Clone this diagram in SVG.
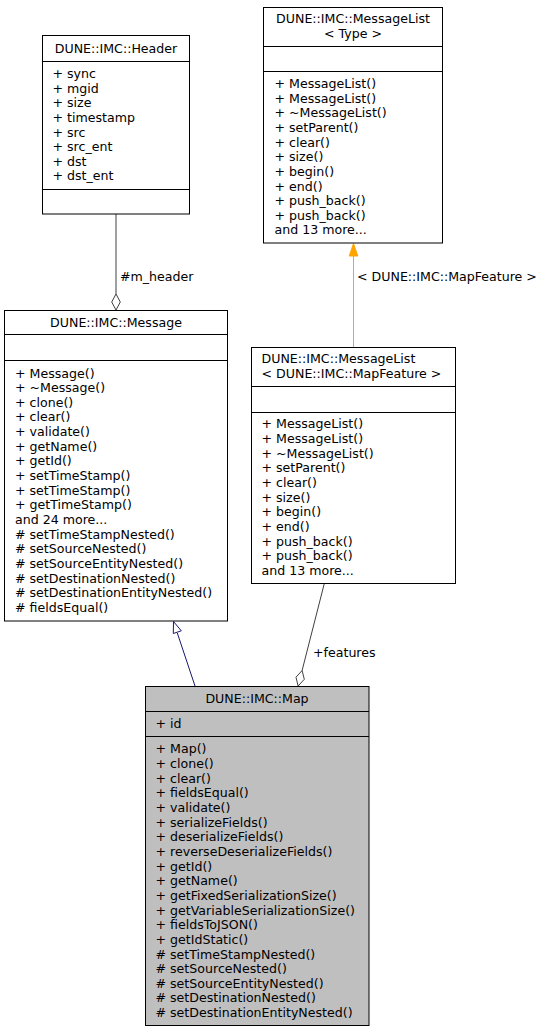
<svg xmlns="http://www.w3.org/2000/svg" width="545" height="1032" viewBox="0 0 545 1032">
<style>
text { font-family: "DejaVu Sans", "Liberation Sans", sans-serif; font-size: 12.6px; fill: #000; }
.box { fill: #fff; stroke: #000; stroke-width: 1; }
.cur { fill: #bfbfbf; stroke: #000; stroke-width: 1; }
.sep { stroke: #000; stroke-width: 1; }
.mid { text-anchor: middle; }
.use { fill: none; stroke: #404040; stroke-width: 1; }
.inh { fill: none; stroke: #191970; stroke-width: 1; }
.tpl { fill: none; stroke: #ffa500; stroke-width: 1; }
</style>
<rect width="545" height="1032" fill="#fff"/>
<g id="connectors">
  <line class="use" x1="116" y1="214" x2="116" y2="294"/>
  <polygon points="116,310 120.3,302 116,294 111.7,302" fill="#fff" stroke="#404040" stroke-width="1"/>
  <text x="120" y="280.5">#m_header</text>
  <line class="tpl" x1="353.5" y1="347" x2="353.5" y2="256"/>
  <polygon points="353.5,243.5 357.8,256 349.2,256" fill="#ffa500" stroke="#ffa500" stroke-width="1"/>
  <text x="357" y="280.5">&lt; DUNE::IMC::MapFeature &gt;</text>
  <line class="inh" x1="195" y1="686" x2="177.3" y2="633"/>
  <polygon points="173.5,621.5 181.3,630.8 173.3,633.5" fill="#fff" stroke="#191970" stroke-width="1"/>
  <line class="use" x1="324.3" y1="583.5" x2="302.1" y2="670.5"/>
  <polygon points="298.1,686 304.3,679.3 302.1,670.5 296,677.2" fill="#fff" stroke="#404040" stroke-width="1"/>
  <text x="313" y="656.5">+features</text>
</g>
<g id="node-header">
  <rect class="box" x="42.5" y="35.5" width="147" height="178.5"/>
  <line class="sep" x1="42.5" y1="61.5" x2="189.5" y2="61.5"/>
  <line class="sep" x1="42.5" y1="189.5" x2="189.5" y2="189.5"/>
  <text class="mid" x="116" y="52.5">DUNE::IMC::Header</text>
  <text x="52.5" y="77.9">+ sync<tspan x="52.5" dy="14.65">+ mgid</tspan><tspan x="52.5" dy="14.65">+ size</tspan><tspan x="52.5" dy="14.65">+ timestamp</tspan><tspan x="52.5" dy="14.65">+ src</tspan><tspan x="52.5" dy="14.65">+ src_ent</tspan><tspan x="52.5" dy="14.65">+ dst</tspan><tspan x="52.5" dy="14.65">+ dst_ent</tspan></text>
</g>
<g id="node-messagelist-type">
  <rect class="box" x="263.5" y="7.5" width="179" height="235.5"/>
  <line class="sep" x1="263.5" y1="46.5" x2="442.5" y2="46.5"/>
  <line class="sep" x1="263.5" y1="71.5" x2="442.5" y2="71.5"/>
  <text class="mid" x="353" y="23.4">DUNE::IMC::MessageList<tspan x="353" dy="14.65">&lt; Type &gt;</tspan></text>
  <text x="274.5" y="87.95">+ MessageList()<tspan x="274.5" dy="14.65">+ MessageList()</tspan><tspan x="274.5" dy="14.65">+ ~MessageList()</tspan><tspan x="274.5" dy="14.65">+ setParent()</tspan><tspan x="274.5" dy="14.65">+ clear()</tspan><tspan x="274.5" dy="14.65">+ size()</tspan><tspan x="274.5" dy="14.65">+ begin()</tspan><tspan x="274.5" dy="14.65">+ end()</tspan><tspan x="274.5" dy="14.65">+ push_back()</tspan><tspan x="274.5" dy="14.65">+ push_back()</tspan><tspan x="274.5" dy="14.65">and 13 more...</tspan></text>
</g>
<g id="node-message">
  <rect class="box" x="4.5" y="310.5" width="223" height="310.5"/>
  <line class="sep" x1="4.5" y1="334.5" x2="227.5" y2="334.5"/>
  <line class="sep" x1="4.5" y1="360.5" x2="227.5" y2="360.5"/>
  <text class="mid" x="116" y="326.5">DUNE::IMC::Message</text>
  <text x="15" y="377.5">+ Message()<tspan x="15" dy="14.65">+ ~Message()</tspan><tspan x="15" dy="14.65">+ clone()</tspan><tspan x="15" dy="14.65">+ clear()</tspan><tspan x="15" dy="14.65">+ validate()</tspan><tspan x="15" dy="14.65">+ getName()</tspan><tspan x="15" dy="14.65">+ getId()</tspan><tspan x="15" dy="14.65">+ setTimeStamp()</tspan><tspan x="15" dy="14.65">+ setTimeStamp()</tspan><tspan x="15" dy="14.65">+ getTimeStamp()</tspan><tspan x="15" dy="14.65">and 24 more...</tspan><tspan x="15" dy="14.65"># setTimeStampNested()</tspan><tspan x="15" dy="14.65"># setSourceNested()</tspan><tspan x="15" dy="14.65"># setSourceEntityNested()</tspan><tspan x="15" dy="14.65"># setDestinationNested()</tspan><tspan x="15" dy="14.65"># setDestinationEntityNested()</tspan><tspan x="15" dy="14.65"># fieldsEqual()</tspan></text>
</g>
<g id="node-messagelist-mapfeature">
  <rect class="box" x="251.5" y="347.5" width="204" height="236"/>
  <line class="sep" x1="251.5" y1="386.5" x2="455.5" y2="386.5"/>
  <line class="sep" x1="251.5" y1="412.5" x2="455.5" y2="412.5"/>
  <text x="261.5" y="363.4">DUNE::IMC::MessageList<tspan x="261.5" dy="14.65">&lt; DUNE::IMC::MapFeature &gt;</tspan></text>
  <text x="261.5" y="428.45">+ MessageList()<tspan x="261.5" dy="14.65">+ MessageList()</tspan><tspan x="261.5" dy="14.65">+ ~MessageList()</tspan><tspan x="261.5" dy="14.65">+ setParent()</tspan><tspan x="261.5" dy="14.65">+ clear()</tspan><tspan x="261.5" dy="14.65">+ size()</tspan><tspan x="261.5" dy="14.65">+ begin()</tspan><tspan x="261.5" dy="14.65">+ end()</tspan><tspan x="261.5" dy="14.65">+ push_back()</tspan><tspan x="261.5" dy="14.65">+ push_back()</tspan><tspan x="261.5" dy="14.65">and 13 more...</tspan></text>
</g>
<g id="node-map">
  <rect class="cur" x="145.5" y="686.5" width="223.5" height="339"/>
  <line class="sep" x1="145.5" y1="711.5" x2="369" y2="711.5"/>
  <line class="sep" x1="145.5" y1="736.5" x2="369" y2="736.5"/>
  <text class="mid" x="257" y="702.7">DUNE::IMC::Map</text>
  <text x="155.5" y="727.7">+ id</text>
  <text x="155.5" y="753.4">+ Map()<tspan x="155.5" dy="14.65">+ clone()</tspan><tspan x="155.5" dy="14.65">+ clear()</tspan><tspan x="155.5" dy="14.65">+ fieldsEqual()</tspan><tspan x="155.5" dy="14.65">+ validate()</tspan><tspan x="155.5" dy="14.65">+ serializeFields()</tspan><tspan x="155.5" dy="14.65">+ deserializeFields()</tspan><tspan x="155.5" dy="14.65">+ reverseDeserializeFields()</tspan><tspan x="155.5" dy="14.65">+ getId()</tspan><tspan x="155.5" dy="14.65">+ getName()</tspan><tspan x="155.5" dy="14.65">+ getFixedSerializationSize()</tspan><tspan x="155.5" dy="14.65">+ getVariableSerializationSize()</tspan><tspan x="155.5" dy="14.65">+ fieldsToJSON()</tspan><tspan x="155.5" dy="14.65">+ getIdStatic()</tspan><tspan x="155.5" dy="14.65"># setTimeStampNested()</tspan><tspan x="155.5" dy="14.65"># setSourceNested()</tspan><tspan x="155.5" dy="14.65"># setSourceEntityNested()</tspan><tspan x="155.5" dy="14.65"># setDestinationNested()</tspan><tspan x="155.5" dy="14.65"># setDestinationEntityNested()</tspan></text>
</g>
</svg>
